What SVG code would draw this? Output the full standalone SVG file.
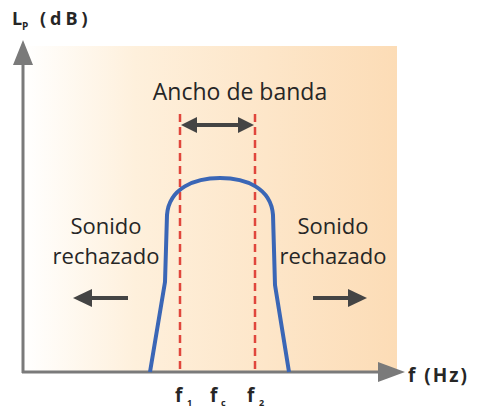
<svg xmlns="http://www.w3.org/2000/svg" width="477" height="409" viewBox="0 0 477 409">
<defs>
<linearGradient id="bg" x1="0" y1="0" x2="1" y2="0">
<stop offset="0" stop-color="#ffffff"/>
<stop offset="0.3" stop-color="#fef0dc"/>
<stop offset="1" stop-color="#fcdcb6"/>
</linearGradient>
<style>
.t{font-family:"Open Sans","Liberation Sans",sans-serif;fill:#262626}
.lbl{font-size:22px;text-anchor:middle}
.axis{stroke:#7a7a7a;stroke-width:3;fill:none}
.dash{stroke:#e0463c;stroke-width:2.5;stroke-dasharray:8 5;fill:none}
.arr{stroke:#444;stroke-width:4;fill:none}
.head{fill:#444}
</style>
</defs>
<rect x="23" y="46" width="374" height="326" fill="url(#bg)"/>
<g id="axes">
<line class="axis" x1="23" y1="373" x2="23" y2="60"/>
<polygon points="23,40 13,65 33,65" fill="#7a7a7a"/>
<line class="axis" x1="22" y1="372" x2="385" y2="372"/>
<polygon points="405,372 378,362 378,382" fill="#7a7a7a"/>
</g>
<g id="y-label">
<text class="t" x="12" y="25" font-size="18" font-weight="bold" fill="#444">L</text>
<text class="t" x="22" y="30" font-size="10" font-weight="bold" fill="#444">P</text>
<text class="t" x="40" y="25" font-size="18" font-weight="bold" letter-spacing="4">(dB)</text>
</g>
<g id="x-label">
<text class="t" x="408" y="382" font-size="19" font-weight="bold" letter-spacing="2">f (Hz)</text>
</g>
<g id="connectors">
<line class="dash" x1="180" y1="114" x2="180" y2="372"/>
<line class="dash" x1="255" y1="114" x2="255" y2="372"/>
<line class="arr" x1="196" y1="125" x2="240" y2="125"/>
<polygon class="head" points="181,125 197,117 197,133"/>
<polygon class="head" points="254,125 238,117 238,133"/>
<line class="arr" x1="90" y1="298" x2="128" y2="298"/>
<polygon class="head" points="73,298 92,289 92,307"/>
<line class="arr" x1="313" y1="298" x2="350" y2="298"/>
<polygon class="head" points="367,298 348,289 348,307"/>
</g>
<g id="curve">
<path d="M150,372 L165,282 L167,215 C169,188 195,178 220,178 C246,178 271,188 273,215 L275,285 L289,372" fill="none" stroke="#3a66b6" stroke-width="4" stroke-linejoin="round"/>
</g>
<g id="bandwidth">
<text class="t" x="240" y="100" font-size="23" text-anchor="middle">Ancho de banda</text>
</g>
<g id="left-text">
<text class="t lbl" x="106" y="234">Sonido</text>
<text class="t lbl" x="106" y="264">rechazado</text>
</g>
<g id="right-text">
<text class="t lbl" x="333" y="234">Sonido</text>
<text class="t lbl" x="333" y="264">rechazado</text>
</g>
<g id="freq-labels">
<text class="t" x="175" y="402" font-size="19" font-weight="bold">f</text>
<text class="t" x="187" y="406" font-size="9" font-weight="bold">1</text>
<text class="t" x="210" y="402" font-size="19" font-weight="bold">f</text>
<text class="t" x="221" y="406" font-size="9" font-weight="bold">c</text>
<text class="t" x="247" y="402" font-size="19" font-weight="bold">f</text>
<text class="t" x="259" y="406" font-size="9" font-weight="bold">2</text>
</g>
</svg>
